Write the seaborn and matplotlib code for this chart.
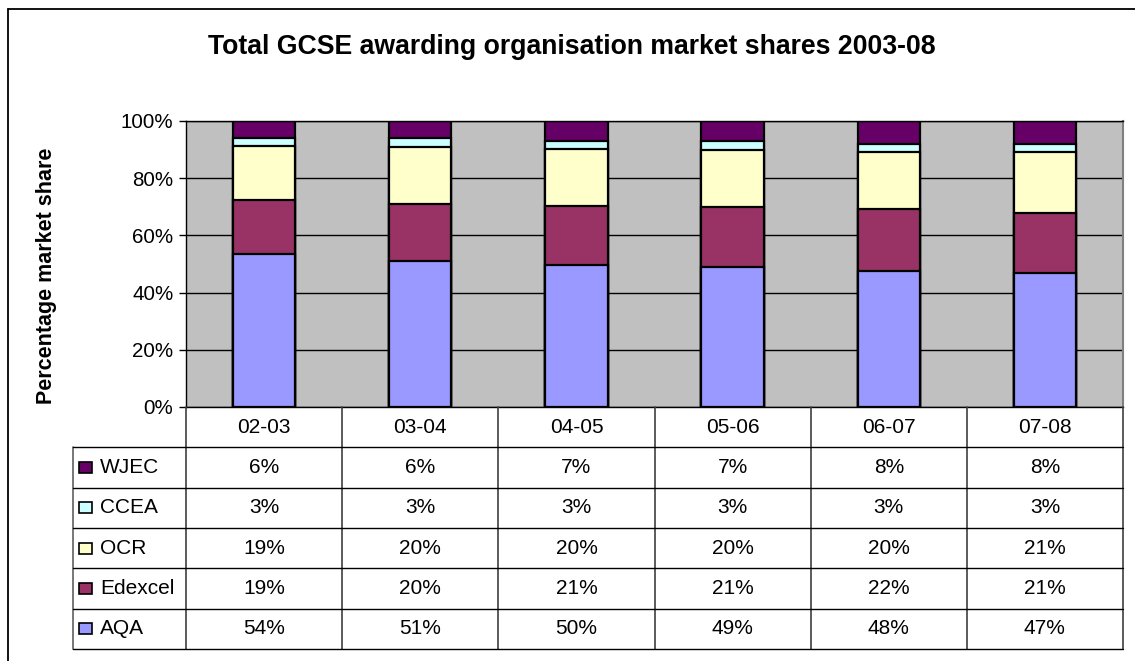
import matplotlib
matplotlib.use('Agg')
import numpy as np
import pandas as pd
import matplotlib.pyplot as plt
import seaborn as sns
from matplotlib.lines import Line2D
from matplotlib.patches import Rectangle
from matplotlib.ticker import FuncFormatter

periods = ['02-03', '03-04', '04-05', '05-06', '06-07', '07-08']
wjec = [6, 6, 7, 7, 8, 8]
ccea = [3, 3, 3, 3, 3, 3]
ocr = [19, 20, 20, 20, 20, 21]
edexcel = [19, 20, 21, 21, 22, 21]
aqa = [54, 51, 50, 49, 48, 47]

table_order = ['WJEC', 'CCEA', 'OCR', 'Edexcel', 'AQA']   # rows of the table
stack_order = ['AQA', 'Edexcel', 'OCR', 'CCEA', 'WJEC']   # bottom to top
colours = {'WJEC': '#660066', 'CCEA': '#CCFFFF', 'OCR': '#FFFFCC',
           'Edexcel': '#993366', 'AQA': '#9999FF'}

sns.set_theme(style='white')
plt.rcParams['font.family'] = ['Liberation Sans', 'DejaVu Sans']
plt.rcParams['text.color'] = 'black'
plt.rcParams['ytick.color'] = 'black'
plt.rcParams['xtick.color'] = 'black'
plt.rcParams['axes.labelcolor'] = 'black'

shares = pd.DataFrame({'WJEC': wjec, 'CCEA': ccea, 'OCR': ocr,
                       'Edexcel': edexcel, 'AQA': aqa}, index=periods)
# 100% stacked: each column scaled to its total
pct = shares.div(shares.sum(axis=1), axis=0) * 100
tops = pct[stack_order].cumsum(axis=1)

W, H = 1135, 661
fig = plt.figure(figsize=(W / 100, H / 100), dpi=100)
fig.patch.set_facecolor('white')

# Chart area
ax = fig.add_axes([186 / W, 1 - 407 / H, (1123 - 186) / W, (407 - 121) / H])
ax.set_facecolor('#C0C0C0')
ax.set_axisbelow(True)
for b in reversed(stack_order):
    sns.barplot(x=periods, y=tops[b].values, color=colours[b], saturation=1,
                width=0.4, edgecolor='black', linewidth=1.6, ax=ax)

ax.set_xlim(-0.5, 5.5)
ax.set_ylim(0, 100)
ax.set_yticks(np.arange(0, 101, 20))
ax.yaxis.set_major_formatter(FuncFormatter(lambda v, p: f'{v:.0f}%'))
ax.yaxis.grid(True, color='black', linewidth=1)
ax.set_xticks([])
ax.set_xlabel('')
ax.set_ylabel('')
ax.tick_params(axis='y', left=True, length=5, width=1, color='black',
               labelcolor='black', labelsize=14.8, pad=4)
for s in ['left', 'bottom', 'top']:
    ax.spines[s].set_color('black')
    ax.spines[s].set_linewidth(1)
ax.spines['right'].set_color('#808080')
ax.spines['right'].set_linewidth(1.5)

# Data table beneath
leg_w = (186 - 73) / 156
x0 = -0.5 - leg_w
tax = fig.add_axes([73 / W, 1 - 649 / H, (1123 - 73) / W, (649 - 407) / H])
tax.set_xlim(x0, 5.5)
tax.set_ylim(6, 0)
tax.axis('off')

for i in range(len(periods) + 1):
    tax.plot([i - 0.5, i - 0.5], [0, 6], color='#404040', lw=1.2, clip_on=False)
tax.plot([x0, x0], [1, 6], color='#606060', lw=1.2, clip_on=False)
for r in range(1, 7):
    tax.plot([x0, 5.5], [r, r], color='black', lw=1, clip_on=False)

for i, p in enumerate(periods):
    tax.text(i, 0.5, p, ha='center', va='center', fontsize=15)
for r, b in enumerate(table_order):
    yc = r + 1.5
    for i, v in enumerate(shares[b]):
        tax.text(i, yc, f'{v}%', ha='center', va='center', fontsize=15)
    tax.add_patch(Rectangle((x0 + 6 / 156, yc - 0.14), 13 / 156, 0.28,
                            facecolor=colours[b], edgecolor='black', lw=1.2,
                            clip_on=False))
    tax.text(x0 + 27 / 156, yc, b, ha='left', va='center', fontsize=15)

# Titles
fig.text(572 / W, 1 - 47 / H, 'Total GCSE awarding organisation market shares 2003-08',
         ha='center', va='center', fontsize=19.2, fontweight='bold')
fig.text(47 / W, 1 - 276 / H, 'Percentage market share', rotation=90,
         ha='center', va='center', fontsize=15.5, fontweight='bold')

# Outer chart frame (extends past the right and bottom of the image)
fig.add_artist(Line2D([8 / W, 8 / W], [0, 1 - 9 / H], color='black', lw=1.3,
                      transform=fig.transFigure))
fig.add_artist(Line2D([8 / W, 1], [1 - 9 / H, 1 - 9 / H], color='black', lw=1.3,
                      transform=fig.transFigure))

fig.savefig('out.png', dpi=100)
